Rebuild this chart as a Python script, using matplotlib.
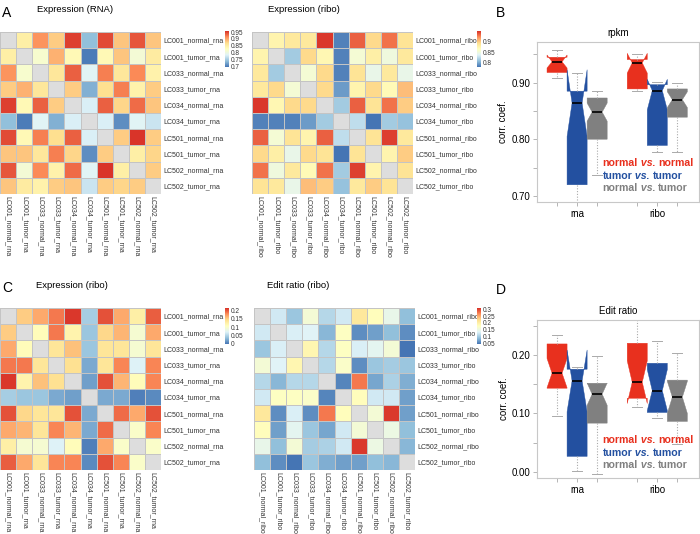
import numpy as np
import matplotlib
matplotlib.use("Agg")
import matplotlib.pyplot as plt
from matplotlib.colors import LinearSegmentedColormap

plt.rcParams['font.family'] = ['Liberation Sans', 'DejaVu Sans']

# ---------------- data ----------------
rna_samples = ['LC001_normal_rna', 'LC001_tumor_rna', 'LC033_normal_rna', 'LC033_tumor_rna',
               'LC034_normal_rna', 'LC034_tumor_rna', 'LC501_normal_rna', 'LC501_tumor_rna',
               'LC502_normal_rna', 'LC502_tumor_rna']
ribo_samples = ['LC001_normal_ribo', 'LC001_tumor_ribo', 'LC033_normal_ribo', 'LC033_tumor_ribo',
                'LC034_normal_ribo', 'LC034_tumor_ribo', 'LC501_normal_ribo', 'LC501_tumor_ribo',
                'LC502_normal_ribo', 'LC502_tumor_ribo']

# upper triangles of the correlation matrices (row i, columns i+1..10)
expr_rna_upper = [
    [0.85, 0.91, 0.88, 0.95, 0.74, 0.945, 0.885, 0.94, 0.885],
    [0.815, 0.895, 0.835, 0.70, 0.835, 0.885, 0.81, 0.855],
    [0.86, 0.935, 0.785, 0.92, 0.86, 0.915, 0.845],
    [0.88, 0.73, 0.87, 0.92, 0.845, 0.88],
    [0.78, 0.935, 0.875, 0.93, 0.885],
    [0.78, 0.71, 0.785, 0.77],
    [0.88, 0.955, 0.88],
    [0.85, 0.875],
    [0.88],
]
expr_ribo_upper = [
    [0.875, 0.885, 0.885, 0.948, 0.785, 0.935, 0.895, 0.93, 0.89],
    [0.815, 0.895, 0.872, 0.785, 0.855, 0.88, 0.85, 0.885],
    [0.855, 0.895, 0.785, 0.89, 0.845, 0.885, 0.845],
    [0.895, 0.795, 0.875, 0.895, 0.87, 0.905],
    [0.815, 0.935, 0.89, 0.93, 0.90],
    [0.825, 0.78, 0.815, 0.81],
    [0.89, 0.945, 0.885],
    [0.875, 0.90],
    [0.89],
]
expr_ribo_c_upper = [
    [0.15, 0.165, 0.185, 0.21, 0.045, 0.20, 0.165, 0.125, 0.195],
    [0.11, 0.185, 0.12, 0.04, 0.145, 0.16, 0.095, 0.165],
    [0.135, 0.155, 0.04, 0.135, 0.135, 0.095, 0.135],
    [0.14, 0.025, 0.135, 0.18, 0.07, 0.18],
    [0.02, 0.20, 0.16, 0.11, 0.18],
    [0.025, 0.025, 0.005, 0.01],
    [0.19, 0.165, 0.20],
    [0.10, 0.18],
    [0.10],
]
edit_ribo_upper = [
    [0.125, 0.095, 0.16, 0.11, 0.125, 0.21, 0.18, 0.145, 0.09],
    [0.13, 0.135, 0.085, 0.175, 0.06, 0.07, 0.09, 0.06],
    [0.19, 0.11, 0.175, 0.13, 0.14, 0.16, 0.045],
    [0.11, 0.17, 0.06, 0.095, 0.10, 0.095],
    [0.055, 0.275, 0.075, 0.105, 0.08],
    [0.18, 0.125, 0.125, 0.07],
    [0.16, 0.305, 0.07],
    [0.15, 0.09],
    [0.085],
]

groups = ['rna', 'ribo']
comp_colors = ['#E8301E', '#2350A0', '#808080']

# box stats, order: rna (n-n, t-t, n-t), ribo (n-n, t-t, n-t)
rpkm_whislo = [0.909, 0.66, 0.737, 0.886, 0.777, 0.778]
rpkm_q1 = [0.918, 0.7195, 0.800, 0.889, 0.789, 0.839]
rpkm_med = [0.937, 0.864, 0.848, 0.935, 0.886, 0.870]
rpkm_q3 = [0.945, 0.885, 0.873, 0.941, 0.8965, 0.889]
rpkm_whishi = [0.957, 0.917, 0.886, 0.950, 0.902, 0.899]
rpkm_cilo = [0.926, 0.805, 0.832, 0.917, 0.852, 0.856]
rpkm_cihi = [0.949, 0.923, 0.864, 0.952, 0.906, 0.884]

edit_whislo = [0.096, 0.001, -0.003, 0.111, 0.092, 0.048]
edit_q1 = [0.1432, 0.0267, 0.0835, 0.126, 0.1017, 0.0864]
edit_med = [0.1688, 0.1557, 0.133, 0.1534, 0.139, 0.128]
edit_q3 = [0.2188, 0.1756, 0.1517, 0.220, 0.1858, 0.157]
edit_whishi = [0.234, 0.180, 0.198, 0.29, 0.2244, 0.203]
edit_cilo = [0.144, 0.103, 0.114, 0.117, 0.105, 0.100]
edit_cihi = [0.194, 0.2085, 0.152, 0.190, 0.175, 0.155]

# ---------------- helpers ----------------
W, H = 700, 534
fig = plt.figure(figsize=(7, 5.34), dpi=100)

def px_axes(x0, y0, w, h):
    return fig.add_axes([x0 / W, 1 - (y0 + h) / H, w / W, h / H])

cmap = LinearSegmentedColormap.from_list(
    'pheat', ['#4575B4', '#91BFDB', '#E0F3F8', '#FFFFBF', '#FEE090', '#FC8D59', '#D73027'])
cmap.set_bad('#DDDDDD')

def full_matrix(upper):
    n = len(upper) + 1
    m = np.full((n, n), np.nan)
    for i, row in enumerate(upper):
        for k, v in enumerate(row):
            m[i, i + 1 + k] = v
            m[i + 1 + k, i] = v
    return m

def heatmap(x0, y0, upper, labels, vmin, vmax, ticks, cb_x, cb_y):
    ax = px_axes(x0, y0, 161, 162)
    mat = np.ma.masked_invalid(full_matrix(upper))
    mesh = ax.pcolormesh(mat, cmap=cmap, vmin=vmin, vmax=vmax,
                         edgecolors='#C4C4C4', linewidth=0.4)
    ax.set_facecolor('#DDDDDD')
    ax.set_xlim(0, 10)
    ax.set_ylim(10, 0)
    for s in ax.spines.values():
        s.set_visible(False)
    ax.yaxis.tick_right()
    ax.set_yticks(np.arange(10) + 0.5)
    ax.set_yticklabels(labels, fontsize=5, color='#333333')
    ax.set_xticks(np.arange(10) + 0.5)
    ax.set_xticklabels(labels, fontsize=5, color='#333333', rotation=270)
    ax.tick_params(length=0, pad=1.5)
    cax = px_axes(cb_x, cb_y, 4, 36)
    cb = fig.colorbar(mesh, cax=cax, ticks=ticks)
    cb.outline.set_visible(False)
    cb.ax.set_yticklabels(['%g' % t for t in ticks])
    cax.tick_params(length=0, labelsize=4.7, pad=1, colors='#333333')
    return ax

def boxpanel(x0, y0, w, h, title, whislo, q1, med, q3, whishi, cilo, cihi,
             ylim, major, minor, legend_y):
    ax = px_axes(x0, y0, w, h)
    positions = [0.75, 1.0, 1.25, 1.75, 2.0, 2.25]
    stats = []
    for i in range(6):
        stats.append(dict(whislo=whislo[i], q1=q1[i], med=med[i], q3=q3[i],
                          whishi=whishi[i], cilo=cilo[i], cihi=cihi[i], fliers=[]))
    bp = ax.bxp(stats, positions=positions, widths=0.25, shownotches=True,
                patch_artist=True, showfliers=False,
                whiskerprops=dict(color='#AAAAAA', linestyle=(0, (1, 1.5)), linewidth=0.8),
                capprops=dict(color='#AAAAAA', linewidth=0.7),
                medianprops=dict(color='black', linewidth=1.2))
    for i, box in enumerate(bp['boxes']):
        c = comp_colors[i % 3]
        box.set_facecolor(c)
        box.set_edgecolor(c)
        box.set_linewidth(0.3)
    ax.set_xlim(0.5, 2.52)
    ax.set_ylim(*ylim)
    ax.set_xticks(positions)
    ax.set_xticklabels(['', groups[0], '', '', groups[1], ''], fontsize=7)
    ax.set_yticks(major)
    ax.set_yticklabels(['%.2f' % v for v in major], fontsize=7)
    ax.set_yticks(minor, minor=True)
    ax.tick_params(which='both', length=3, color='#AAAAAA', width=0.6, pad=2)
    for s in ax.spines.values():
        s.set_color('#C8C8C8')
        s.set_linewidth(0.8)
    ax.set_title(title, fontsize=7, pad=4)
    ax.set_ylabel('corr. coef.', fontsize=7, labelpad=2)
    # legend text
    words = [('normal', 'normal'), ('tumor', 'tumor'), ('normal', 'tumor')]
    for k, (a, b) in enumerate(words):
        t1 = ax.text(0.405, legend_y[k], a, transform=ax.transAxes, fontsize=7.6,
                     weight='bold', color=comp_colors[k], va='center')
        t2 = ax.annotate(' vs. ', xy=(1, 0), xycoords=t1, va='bottom', fontsize=7.6,
                         weight='bold', style='italic', color=comp_colors[k])
        ax.annotate(b, xy=(1, 0), xycoords=t2, va='bottom', fontsize=7.6,
                    weight='bold', color=comp_colors[k])
    return ax

# ---------------- panels ----------------
heatmap(0, 32, expr_rna_upper, rna_samples, 0.695, 0.958,
        [0.7, 0.75, 0.8, 0.85, 0.9, 0.95], 225, 31)
heatmap(252, 32, expr_ribo_upper, ribo_samples, 0.78, 0.95,
        [0.8, 0.85, 0.9], 477, 31)
heatmap(0, 308, expr_ribo_c_upper, rna_samples, 0.0, 0.213,
        [0, 0.05, 0.1, 0.15, 0.2], 225, 308)
heatmap(254, 308, edit_ribo_upper, ribo_samples, 0.045, 0.31,
        [0.05, 0.1, 0.15, 0.2, 0.25, 0.3], 477, 308)

boxpanel(537, 42, 162, 160, 'rpkm', rpkm_whislo, rpkm_q1, rpkm_med, rpkm_q3,
         rpkm_whishi, rpkm_cilo, rpkm_cihi, (0.689, 0.972),
         [0.7, 0.8, 0.9], [0.75, 0.85, 0.95], [0.244, 0.1625, 0.0875])
boxpanel(537, 320, 162, 158, 'Edit ratio', edit_whislo, edit_q1, edit_med, edit_q3,
         edit_whishi, edit_cilo, edit_cihi, (-0.0102, 0.2597),
         [0.0, 0.1, 0.2], [0.05, 0.15, 0.25], [0.2405, 0.158, 0.082])

# titles and panel letters
def fig_text(x, y, s, **kw):
    fig.text(x / W, 1 - y / H, s, va='center', **kw)

fig_text(37, 9, 'Expression (RNA)', fontsize=6.8)
fig_text(268, 9, 'Expression (ribo)', fontsize=6.8)
fig_text(36, 285, 'Expression (ribo)', fontsize=6.8)
fig_text(267, 285, 'Edit ratio (ribo)', fontsize=6.8)
fig_text(2, 13, 'A', fontsize=10)
fig_text(496, 13, 'B', fontsize=10)
fig_text(2, 288, 'C', fontsize=10)
fig_text(496, 290, 'D', fontsize=10)

fig.savefig('out.png', dpi=100)
